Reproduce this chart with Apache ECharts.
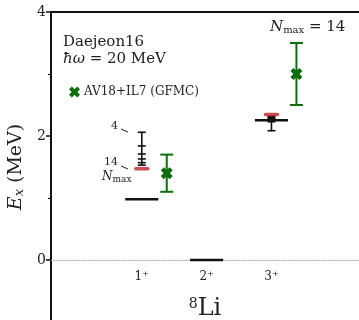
<!DOCTYPE html>
<html><head><meta charset="utf-8">
<script src="https://cdn.jsdelivr.net/npm/echarts@6/dist/echarts.min.js"></script>
<style>html,body{margin:0;padding:0;background:#fff}#c{width:359px;height:320px}</style>
</head><body><div id="c"></div>
<script>
// ---- data ----
const stateJ = ['1', '2', '3'];
const stateParity = ['+', '+', '+'];
const statePos = [1, 2, 3];
const expEnergies = [0.98, 0.0, 2.255];
const nmaxValues = [4, 6, 8, 10, 12, 14];
const d16Ladder1 = [2.06, 1.84, 1.71, 1.63, 1.57, 1.53];
const d16Ladder3 = [2.085, 2.23, 2.28, 2.30, 2.32, 2.33];
const d16Extrap = [1.47, null, 2.345];
const gfmcValues = [1.40, null, 3.00];
const gfmcErrors = [0.30, null, 0.50];
const yTickValues = [0, 2, 4];
const yMinorTickValues = [1, 3];

const SERIF = 'DejaVu Serif';
const GREEN = '#0b6e0b';
const RED = '#c43c3c';
const xMarker = 'path://M0.46,-0.955L0.955,-0.46L0.495,0L0.955,0.46L0.46,0.955L0,0.495L-0.46,0.955L-0.955,0.46L-0.495,0L-0.955,-0.46L-0.46,-0.955L0,-0.495Z';

const ladderData = [];
[[0, d16Ladder1], [2, d16Ladder3]].forEach(([i, arr]) => {
  ladderData.push([statePos[i]].concat(arr));
});

const chart = echarts.init(document.getElementById('c'), null, {renderer: 'canvas'});
chart.setOption({
  animation: false,
  grid: {left: 51, right: 0, top: 12, bottom: -2, containLabel: false, outerBoundsMode: 'none'},
  xAxis: [{
    type: 'value', min: -0.4, max: 4.35, offset: -62,
    axisLine: {show: true, onZero: false, lineStyle: {color: '#aaaaaa', width: 1, type: [1, 1.5]}},
    axisTick: {show: false},
    splitLine: {show: false},
    axisLabel: {
      customValues: statePos, margin: 10,
      formatter: v => '{n|' + stateJ[v - 1] + '}{s|' + stateParity[v - 1] + '}',
      rich: {
        n: {fontFamily: SERIF, fontSize: 12, color: '#222'},
        s: {fontFamily: SERIF, fontSize: 8, color: '#222', verticalAlign: 'top', padding: [0, 0, 6, 0]}
      }
    },
    name: '{s|8}{b|Li}', nameLocation: 'middle', nameGap: 37,
    nameTextStyle: {
      rich: {
        s: {fontFamily: SERIF, fontSize: 14, color: '#222', padding: [0, 0, 10, 0]},
        b: {fontFamily: SERIF, fontSize: 24, color: '#222'}
      }
    }
  }, {
    type: 'value', min: -0.4, max: 4.35, position: 'top',
    axisLine: {show: true, onZero: false, lineStyle: {color: '#111', width: 2}},
    axisTick: {show: false}, axisLabel: {show: false}, splitLine: {show: false}
  }],
  yAxis: [{
    type: 'value', min: -1, max: 4, interval: 1,
    axisLine: {show: true, onZero: false, lineStyle: {color: '#111', width: 2}},
    axisTick: {show: true, customValues: yTickValues, length: 5, lineStyle: {color: '#111', width: 1.5}},
    axisLabel: {customValues: yTickValues, margin: 5, fontFamily: SERIF, fontSize: 14, color: '#222'},
    splitLine: {show: false},
    name: '{e|E}{x|x}{m| (MeV)}', nameLocation: 'middle', nameRotate: 90, nameGap: 18,
    nameTextStyle: {
      rich: {
        e: {fontFamily: SERIF, fontStyle: 'italic', fontSize: 19, color: '#222'},
        x: {fontFamily: SERIF, fontStyle: 'italic', fontSize: 13, color: '#222', verticalAlign: 'bottom', padding: [8, 0, 0, 0]},
        m: {fontFamily: SERIF, fontSize: 19, color: '#222'}
      }
    }
  }, {
    type: 'value', min: -1, max: 4, interval: 1, position: 'left',
    axisLine: {show: false, onZero: false},
    axisTick: {show: true, customValues: yMinorTickValues, length: 3, lineStyle: {color: '#111', width: 1.2}},
    axisLabel: {show: false}, splitLine: {show: false}
  }],
  legend: {
    left: 64, top: 81, itemWidth: 11, itemHeight: 11, itemGap: 5,
    data: [{name: 'AV18+IL7 (GFMC)', icon: xMarker}],
    textStyle: {fontFamily: SERIF, fontSize: 12, color: '#222', padding: [0, 0, 0, -1]}
  },
  series: [
    { // GFMC error bars
      type: 'custom', z: 3,
      data: gfmcValues.map((v, i) => v == null ? null : [statePos[i], v, gfmcErrors[i]]).filter(d => d),
      renderItem(params, api) {
        const x = api.value(0) + 0.385, v = api.value(1), e = api.value(2);
        const top = api.coord([x, v + e]), bot = api.coord([x, v - e]);
        const hw = 6.5;
        const st = {stroke: GREEN, lineWidth: 2};
        return {type: 'group', children: [
          {type: 'line', shape: {x1: top[0], y1: top[1], x2: bot[0], y2: bot[1]}, style: st},
          {type: 'line', shape: {x1: top[0] - hw, y1: top[1], x2: top[0] + hw, y2: top[1]}, style: st},
          {type: 'line', shape: {x1: bot[0] - hw, y1: bot[1], x2: bot[0] + hw, y2: bot[1]}, style: st}
        ]};
      }
    },
    {
      name: 'AV18+IL7 (GFMC)', type: 'scatter', z: 4,
      symbol: xMarker, symbolSize: 12,
      itemStyle: {color: GREEN, opacity: 1},
      data: gfmcValues.map((v, i) => v == null ? null : [statePos[i] + 0.385, v]).filter(d => d)
    },
    { // Daejeon16 Nmax ladders
      type: 'custom', z: 3,
      data: ladderData,
      renderItem(params, api) {
        const x = api.value(0);
        const vals = nmaxValues.map((n, k) => api.value(k + 1));
        const pts = vals.map(v => api.coord([x, v]));
        const ys = pts.map(p => p[1]);
        const st = {stroke: '#111', lineWidth: 1.6};
        const children = [{type: 'line', shape: {x1: pts[0][0], y1: Math.min(...ys), x2: pts[0][0], y2: Math.max(...ys)}, style: st}];
        pts.forEach(p => children.push({type: 'line', shape: {x1: p[0] - 4, y1: p[1], x2: p[0] + 4, y2: p[1]}, style: st}));
        return {type: 'group', children};
      }
    },
    { // experimental levels
      type: 'custom', z: 4,
      data: expEnergies.map((e, i) => [statePos[i], e]),
      renderItem(params, api) {
        const x = api.value(0), y = api.value(1);
        const a = api.coord([x - 0.255, y]), b = api.coord([x + 0.255, y]);
        return {type: 'line', shape: {x1: a[0], y1: a[1], x2: b[0], y2: b[1]}, style: {stroke: '#111', lineWidth: 2.5}};
      }
    },
    { // extrapolated Daejeon16
      type: 'custom', z: 5,
      data: d16Extrap.map((v, i) => v == null ? null : [statePos[i], v]).filter(d => d),
      renderItem(params, api) {
        const p = api.coord([api.value(0), api.value(1)]);
        return {type: 'line', shape: {x1: p[0] - 6, y1: p[1], x2: p[0] + 6, y2: p[1]}, style: {stroke: RED, lineWidth: 3.5, lineCap: 'round', opacity: 0.9}};
      }
    }
  ],
  graphic: [
    {type: 'text', left: 63, top: 35, style: {text: 'Daejeon16', font: '15px "DejaVu Serif"', fill: '#222'}},
    {type: 'text', left: 63, top: 52, style: {
      text: '{i|ħω}{r| = 20 MeV}', fill: '#222',
      rich: {i: {fontFamily: SERIF, fontStyle: 'italic', fontSize: 15, fill: '#222'}, r: {fontFamily: SERIF, fontSize: 15, fill: '#222'}}
    }},
    {type: 'text', left: 270, top: 20, style: {
      text: '{n|N}{s|max}{r| = 14}', fill: '#222',
      rich: {
        n: {fontFamily: SERIF, fontStyle: 'italic', fontSize: 15, fill: '#222'},
        s: {fontFamily: SERIF, fontSize: 10, fill: '#222', verticalAlign: 'bottom', padding: [6, 0, 0, 0]},
        r: {fontFamily: SERIF, fontSize: 15, fill: '#222'}
      }
    }},
    {type: 'text', left: 111, top: 121, style: {text: '4', font: '11px "DejaVu Serif"', fill: '#222'}},
    {type: 'line', shape: {x1: 121, y1: 129, x2: 128, y2: 132}, style: {stroke: '#222', lineWidth: 1}},
    {type: 'text', left: 104, top: 157, style: {text: '14', font: '11px "DejaVu Serif"', fill: '#222'}},
    {type: 'line', shape: {x1: 121, y1: 166, x2: 128, y2: 169}, style: {stroke: '#222', lineWidth: 1}},
    {type: 'text', left: 102, top: 171, style: {
      text: '{n|N}{s|max}', fill: '#222',
      rich: {
        n: {fontFamily: SERIF, fontStyle: 'italic', fontSize: 12, fill: '#222'},
        s: {fontFamily: SERIF, fontSize: 9, fill: '#222', verticalAlign: 'bottom', padding: [5, 0, 0, 0]}
      }
    }}
  ]
});
</script>
</body></html>
